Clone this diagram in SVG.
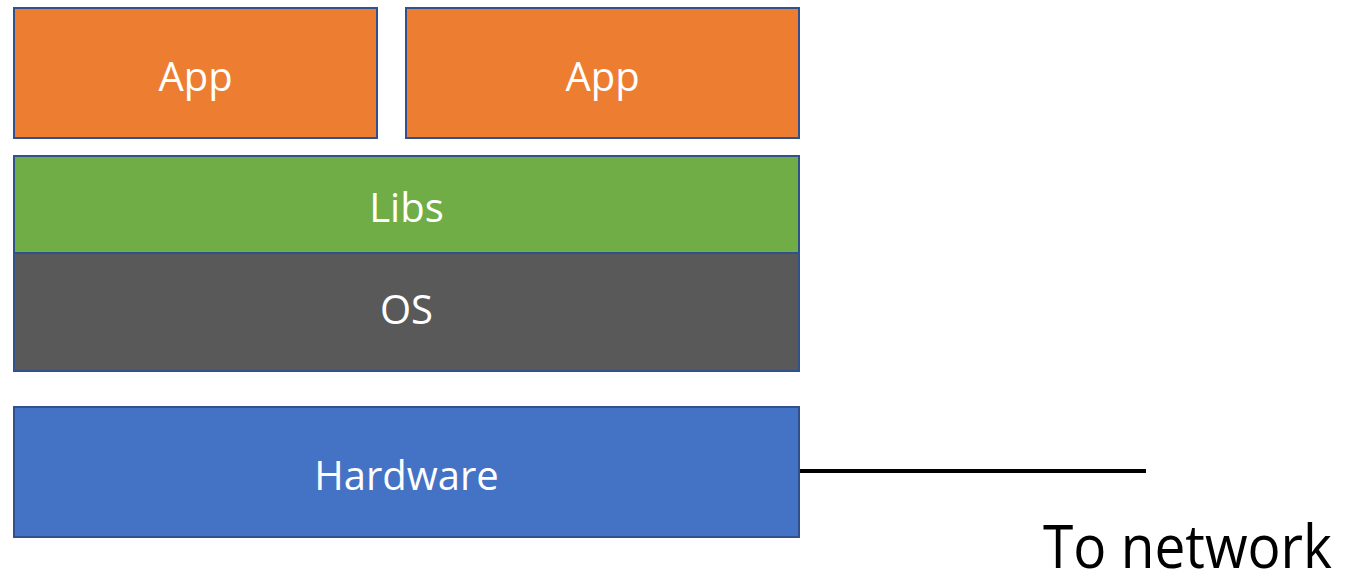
<svg xmlns="http://www.w3.org/2000/svg" width="1352" height="576" viewBox="0 0 1352 576">
<style>
.box{stroke:#2F528F;stroke-width:2}
.lbl{font-family:"Open Sans","Liberation Sans",sans-serif;font-size:40px;fill:#fff;text-anchor:middle;dominant-baseline:central}
</style>
<rect width="1352" height="576" fill="#fff"/>
<g id="app1"><rect class="box" x="14" y="8" width="363" height="130" fill="#ED7D31"/><text class="lbl" x="195.5" y="75">App</text></g>
<g id="app2"><rect class="box" x="406" y="8" width="393" height="130" fill="#ED7D31"/><text class="lbl" x="602.5" y="75">App</text></g>
<g id="libs"><rect class="box" x="14" y="156" width="785" height="97" fill="#70AD47"/><text class="lbl" x="406.5" y="206">Libs</text></g>
<g id="os"><rect class="box" x="14" y="253" width="785" height="118" fill="#595959"/><text class="lbl" x="406.5" y="308">OS</text></g>
<g id="hardware"><rect class="box" x="14" y="407" width="785" height="130" fill="#4472C4"/><text class="lbl" x="406.5" y="474">Hardware</text></g>
<g id="connectors"><line x1="800" y1="471" x2="1146" y2="471" stroke="#000" stroke-width="4"/></g>
<text x="1043" y="568" font-family="'Open Sans','Liberation Sans',sans-serif" font-size="60" fill="#000" textLength="289" lengthAdjust="spacingAndGlyphs">To network</text>
</svg>
